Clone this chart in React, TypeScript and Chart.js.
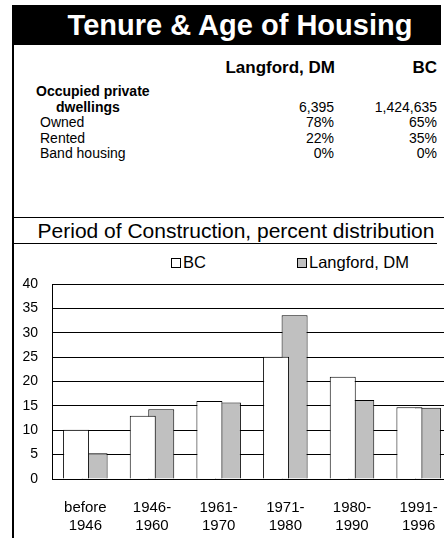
import React, { useEffect, useRef } from "react";
import { Chart, registerables } from "chart.js";

Chart.register(...registerables);

const title = "Tenure & Age of Housing";
const tableColumns = ["Langford, DM", "BC"];
const dwellingsLabel = ["Occupied private", "dwellings"];
const dwellingsValues = ["6,395", "1,424,635"];
const rowLabels = ["Owned", "Rented", "Band housing"];
const ownedValues = ["78%", "65%"];
const rentedValues = ["22%", "35%"];
const bandValues = ["0%", "0%"];
const chartTitle = "Period of Construction, percent distribution";

const categories = [
  ["before", "1946"],
  ["1946-", "1960"],
  ["1961-", "1970"],
  ["1971-", "1980"],
  ["1980-", "1990"],
  ["1991-", "1996"],
];
const seriesNames = ["BC", "Langford, DM"];
const bcValues = [10.1, 13.0, 16.0, 25.1, 21.0, 14.7];
const langfordValues = [5.3, 14.3, 15.7, 33.6, 16.2, 14.6];
const yTicks = [0, 5, 10, 15, 20, 25, 30, 35, 40];

const FONT = "Arial, 'Liberation Sans', sans-serif";

const abs = (s: React.CSSProperties): React.CSSProperties => ({ position: "absolute", ...s });

export default function App() {
  const canvasRef = useRef<HTMLCanvasElement | null>(null);

  useEffect(() => {
    if (!canvasRef.current) return;
    const chart = new Chart(canvasRef.current, {
      type: "bar",
      data: {
        labels: categories,
        datasets: [
          {
            label: seriesNames[0],
            data: bcValues,
            backgroundColor: "#ffffff",
            borderColor: "#000000",
            borderWidth: 1,
            categoryPercentage: 0.555,
            barPercentage: 1.405,
          },
          {
            label: seriesNames[1],
            data: langfordValues,
            backgroundColor: "#c0c0c0",
            borderColor: "#000000",
            borderWidth: 1,
            categoryPercentage: 0.555,
            barPercentage: 1.405,
          },
        ],
      },
      options: {
        animation: false,
        responsive: false,
        maintainAspectRatio: false,
        layout: { padding: { top: 38, right: 32, left: 0, bottom: 0 } },
        plugins: { legend: { display: false }, tooltip: { enabled: false } },
        scales: {
          x: {
            grid: { display: false },
            border: { display: true, color: "#000", width: 1 },
            ticks: {
              color: "#000",
              font: { family: FONT, size: 15, lineHeight: 1.2 },
              padding: 12,
              maxRotation: 0,
              autoSkip: false,
            },
            afterFit: (s: any) => {
              s.height = 59;
            },
          },
          y: {
            min: 0,
            max: 40,
            afterBuildTicks: (s: any) => {
              s.ticks = yTicks.map((v) => ({ value: v }));
            },
            grid: { color: "#000", lineWidth: 1, drawTicks: false },
            border: { display: true, color: "#000", width: 1 },
            ticks: {
              color: "#000",
              font: { family: FONT, size: 14 },
              padding: 14,
            },
            afterFit: (s: any) => {
              s.width = 38;
            },
          },
        },
      },
    });
    return () => chart.destroy();
  }, []);

  const textBase: React.CSSProperties = { fontFamily: FONT, fontSize: 14, color: "#000", whiteSpace: "nowrap", lineHeight: "16px" };

  return (
    <div style={abs({ left: 0, top: 0, width: 444, height: 538, overflow: "hidden", background: "#fff" })}>
      <div style={abs({ left: 12, top: 5, width: 429, height: 40, background: "#000" })} />
      <div
        style={abs({
          left: 0,
          top: 5,
          width: 480,
          height: 40,
          lineHeight: "40px",
          textAlign: "center",
          color: "#fff",
          fontFamily: FONT,
          fontWeight: "bold",
          fontSize: 29,
          whiteSpace: "nowrap",
        })}
      >
        {title}
      </div>
      <div style={abs({ left: 12, top: 45, width: 2, height: 493, background: "#000" })} />

      <div style={abs({ ...textBase, fontSize: 17, lineHeight: "20px", fontWeight: "bold", right: 444 - 335, top: 58 })}>{tableColumns[0]}</div>
      <div style={abs({ ...textBase, fontSize: 17, lineHeight: "20px", fontWeight: "bold", right: 444 - 437, top: 58 })}>{tableColumns[1]}</div>

      <div style={abs({ ...textBase, fontWeight: "bold", left: 36, top: 83 })}>{dwellingsLabel[0]}</div>
      <div style={abs({ ...textBase, fontWeight: "bold", left: 56, top: 99 })}>{dwellingsLabel[1]}</div>
      <div style={abs({ ...textBase, right: 444 - 334, top: 99 })}>{dwellingsValues[0]}</div>
      <div style={abs({ ...textBase, right: 444 - 437, top: 99 })}>{dwellingsValues[1]}</div>

      {[ownedValues, rentedValues, bandValues].map((vals, i) => (
        <React.Fragment key={i}>
          <div style={abs({ ...textBase, left: 40, top: 114 + i * 15.5 })}>{rowLabels[i]}</div>
          <div style={abs({ ...textBase, right: 444 - 334, top: 114 + i * 15.5 })}>{vals[0]}</div>
          <div style={abs({ ...textBase, right: 444 - 437, top: 114 + i * 15.5 })}>{vals[1]}</div>
        </React.Fragment>
      ))}

      <div style={abs({ left: 14, top: 217, width: 430, height: 1, background: "#000" })} />
      <div
        style={abs({
          left: 14,
          top: 219,
          width: 444,
          textAlign: "center",
          fontFamily: FONT,
          fontSize: 21,
          lineHeight: "24px",
          color: "#000",
          whiteSpace: "nowrap",
        })}
      >
        {chartTitle}
      </div>
      <div style={abs({ left: 14, top: 243, width: 423, height: 1, background: "#000" })} />

      <div style={abs({ left: 171, top: 258, width: 8, height: 8, border: "1px solid #000", background: "#fff" })} />
      <div style={abs({ ...textBase, fontSize: 16.5, lineHeight: "18px", left: 183, top: 253 })}>{seriesNames[0]}</div>
      <div style={abs({ left: 297, top: 258, width: 8, height: 8, border: "1px solid #000", background: "#c0c0c0" })} />
      <div style={abs({ ...textBase, fontSize: 16.5, lineHeight: "18px", left: 309, top: 253 })}>{seriesNames[1]}</div>

      <canvas ref={canvasRef} width={470} height={292} style={abs({ left: 14, top: 246, width: 470, height: 292 })} />
    </div>
  );
}
